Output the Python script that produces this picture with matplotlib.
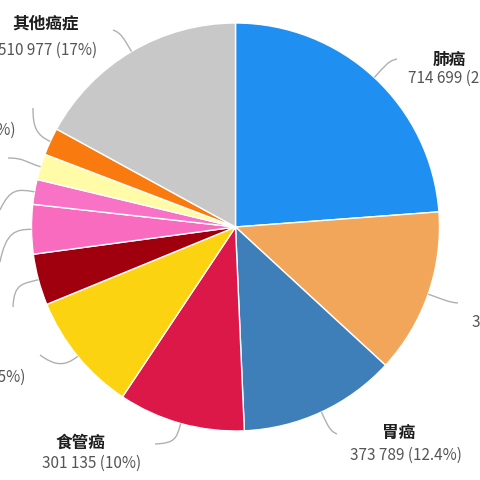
import matplotlib
matplotlib.use("Agg")
import matplotlib.pyplot as plt
from matplotlib.path import Path
from matplotlib.patches import PathPatch
import numpy as np

plt.rcParams['font.family'] = ['Noto Sans CJK SC', 'DejaVu Sans']

###Data###
names = ['肺癌', '肝癌', '胃癌', '食管癌', '结直肠癌', '胰腺癌', '乳腺癌',
         '宫颈癌', '白血病', '脑癌', '其他癌症']
deaths = [714699, 391152, 373789, 301135, 283951, 121853, 117174,
          59060, 61694, 65204, 510977]
pct_labels = ['23.8%', '13%', '12.4%', '10%', '9.5%', '4.1%', '3.9%',
              '2%', '2.1%', '2.2%', '17%']

###Style###
colors = ['#1F8FF2', '#F2A65A', '#3F7FB9', '#DC1848', '#FCD310', '#A0000E',
          '#F96BBF', '#F872C6', '#FFFBA6', '#F97B10', '#C8C8C8']

###Layout, in pixels of the 480x480 picture###
CX, CY, R = 235.5, 227.0, 204.0
leader_end = [(397, 59), (458, 303), (337, 434), (155, 444), (40, 355),
              (13, 307), (0, 262), (0, 210), (8, 158), (33, 108), (113, 30)]
leader_c2 = [(388, 61), (447, 302), (330, 431), (175, 443), (55, 366),
             (14, 283), (6, 232), (10, 188), (24, 158), (33, 126), (121, 33)]
# (x, y, ha) for the bold name line and for the number line
name_pos = [(449.5, 60, 'center'), (521, 304, 'center'), (399, 433, 'center'),
            (80.5, 443, 'center'), (-40, 352, 'center'), (-55, 300, 'center'),
            (-65, 252, 'center'), (-70, 200, 'center'), (-60, 152, 'center'),
            (-40, 103, 'center'), (45.5, 23, 'center')]
num_pos = [(408, 78, 'left'), (472, 322, 'left'), (350, 455, 'left'),
           (42, 463, 'left'), (25, 377, 'right'), (-4, 327, 'right'),
           (-14, 278, 'right'), (-20, 228, 'right'), (-8, 180, 'right'),
           (15, 130, 'right'), (97, 50, 'right')]


def to_x(px):
    return (px - CX) / R


def to_y(py):
    return (CY - py) / R


fig = plt.figure(figsize=(4.8, 4.8), dpi=100)
ax = fig.add_axes([0, 0, 1, 1])

wedges, _ = ax.pie(deaths, colors=colors, startangle=90, counterclock=False,
                   radius=1, wedgeprops=dict(edgecolor='white', linewidth=1))

for i, w in enumerate(wedges):
    # leader line from the middle of the wedge rim out to the label
    mid = np.deg2rad((w.theta1 + w.theta2) / 2)
    p0 = (np.cos(mid), np.sin(mid))
    c1 = (1.08 * np.cos(mid), 1.08 * np.sin(mid))
    c2 = (to_x(leader_c2[i][0]), to_y(leader_c2[i][1]))
    p3 = (to_x(leader_end[i][0]), to_y(leader_end[i][1]))
    path = Path([p0, c1, c2, p3],
                [Path.MOVETO, Path.CURVE4, Path.CURVE4, Path.CURVE4])
    ax.add_patch(PathPatch(path, facecolor='none', edgecolor='#B0B0B0',
                           lw=1.0, clip_on=False))

    nx, ny, nha = name_pos[i]
    ax.text(to_x(nx), to_y(ny), names[i], ha=nha, va='center',
            fontsize=12, fontweight='bold', color='#1E1E1E')
    label = '{:,}'.format(deaths[i]).replace(',', ' ') + ' (' + pct_labels[i] + ')'
    mx, my, mha = num_pos[i]
    ax.text(to_x(mx), to_y(my), label, ha=mha, va='center',
            fontsize=11, color='#555555')

ax.set_xlim(to_x(0), to_x(480))
ax.set_ylim(to_y(480), to_y(0))
ax.set_aspect('equal')
ax.axis('off')

fig.savefig('out.png', dpi=100)
